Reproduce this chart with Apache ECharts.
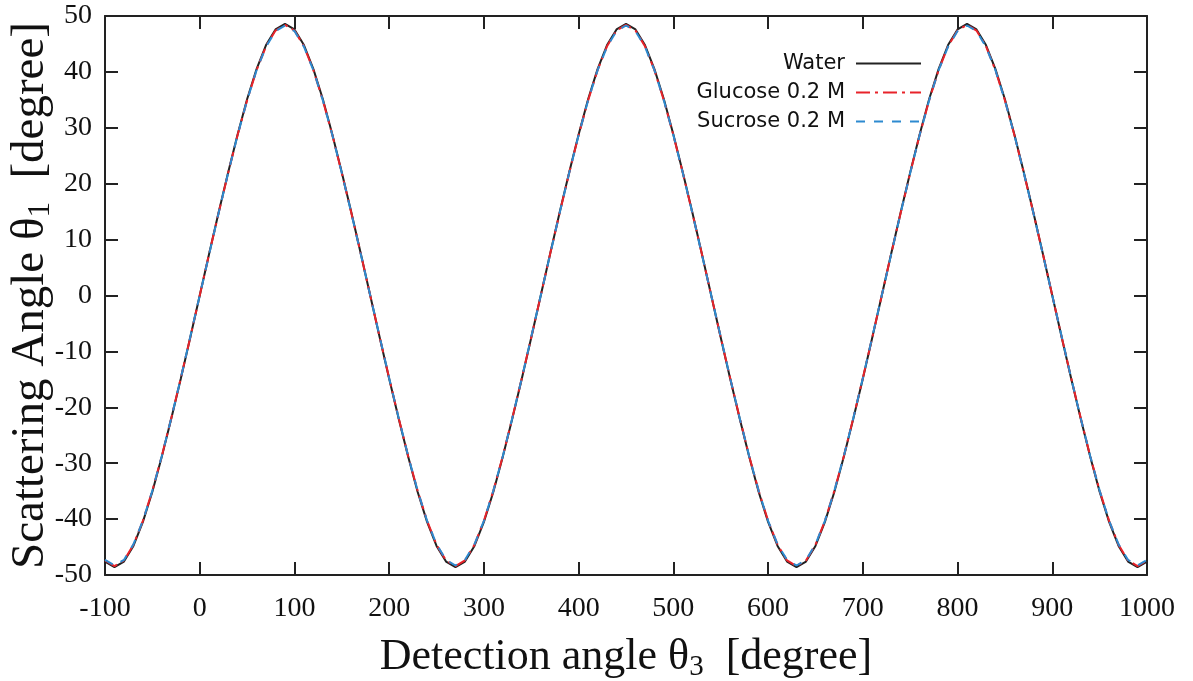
<!DOCTYPE html>
<html>
<head>
<meta charset="utf-8">
<script src="https://cdn.jsdelivr.net/npm/echarts@6/dist/echarts.min.js"></script>
<style>html,body{margin:0;padding:0;background:#fff}#c{width:1193px;height:681px}</style>
</head>
<body>
<div id="c"></div>
<script>
const detectionAngle = [
-100,-90,-80,-70,-60,-50,-40,-30,-20,-10,
0,10,20,30,40,50,60,70,80,90,100,110,120,130,140,150,160,170,
180,190,200,210,220,230,240,250,260,270,280,290,300,310,320,330,340,350,
360,370,380,390,400,410,420,430,440,450,460,470,480,490,500,510,520,530,
540,550,560,570,580,590,600,610,620,630,640,650,660,670,680,690,700,710,
720,730,740,750,760,770,780,790,800,810,820,830,840,850,860,870,880,890,
900,910,920,930,940,950,960,970,980,990,1000];

const water = [
-47.6,-48.6,-47.6,-44.8,-40.5,-35.1,-28.8,-22.0,-14.9,-7.5,
0,7.5,14.9,22.0,28.8,35.1,40.5,44.8,47.6,48.6,47.6,44.8,40.5,35.1,28.8,22.0,14.9,7.5,
0,-7.5,-14.9,-22.0,-28.8,-35.1,-40.5,-44.8,-47.6,-48.6,-47.6,-44.8,-40.5,-35.1,-28.8,-22.0,-14.9,-7.5,
0,7.5,14.9,22.0,28.8,35.1,40.5,44.8,47.6,48.6,47.6,44.8,40.5,35.1,28.8,22.0,14.9,7.5,
0,-7.5,-14.9,-22.0,-28.8,-35.1,-40.5,-44.8,-47.6,-48.6,-47.6,-44.8,-40.5,-35.1,-28.8,-22.0,-14.9,-7.5,
0,7.5,14.9,22.0,28.8,35.1,40.5,44.8,47.6,48.6,47.6,44.8,40.5,35.1,28.8,22.0,14.9,7.5,
0,-7.5,-14.9,-22.0,-28.8,-35.1,-40.5,-44.8,-47.6,-48.6,-47.6];

const glucose = [
-47.4,-48.4,-47.4,-44.6,-40.3,-34.9,-28.7,-21.9,-14.8,-7.5,
0,7.5,14.8,21.9,28.7,34.9,40.3,44.6,47.4,48.4,47.4,44.6,40.3,34.9,28.7,21.9,14.8,7.5,
0,-7.5,-14.8,-21.9,-28.7,-34.9,-40.3,-44.6,-47.4,-48.4,-47.4,-44.6,-40.3,-34.9,-28.7,-21.9,-14.8,-7.5,
0,7.5,14.8,21.9,28.7,34.9,40.3,44.6,47.4,48.4,47.4,44.6,40.3,34.9,28.7,21.9,14.8,7.5,
0,-7.5,-14.8,-21.9,-28.7,-34.9,-40.3,-44.6,-47.4,-48.4,-47.4,-44.6,-40.3,-34.9,-28.7,-21.9,-14.8,-7.5,
0,7.5,14.8,21.9,28.7,34.9,40.3,44.6,47.4,48.4,47.4,44.6,40.3,34.9,28.7,21.9,14.8,7.5,
0,-7.5,-14.8,-21.9,-28.7,-34.9,-40.3,-44.6,-47.4,-48.4,-47.4];

const sucrose = [
-47.3,-48.3,-47.3,-44.5,-40.3,-34.9,-28.7,-21.9,-14.8,-7.4,
0,7.4,14.8,21.9,28.7,34.9,40.3,44.5,47.3,48.3,47.3,44.5,40.3,34.9,28.7,21.9,14.8,7.4,
0,-7.4,-14.8,-21.9,-28.7,-34.9,-40.3,-44.5,-47.3,-48.3,-47.3,-44.5,-40.3,-34.9,-28.7,-21.9,-14.8,-7.4,
0,7.4,14.8,21.9,28.7,34.9,40.3,44.5,47.3,48.3,47.3,44.5,40.3,34.9,28.7,21.9,14.8,7.4,
0,-7.4,-14.8,-21.9,-28.7,-34.9,-40.3,-44.5,-47.3,-48.3,-47.3,-44.5,-40.3,-34.9,-28.7,-21.9,-14.8,-7.4,
0,7.4,14.8,21.9,28.7,34.9,40.3,44.5,47.3,48.3,47.3,44.5,40.3,34.9,28.7,21.9,14.8,7.4,
0,-7.4,-14.8,-21.9,-28.7,-34.9,-40.3,-44.5,-47.3,-48.3,-47.3];

const seriesNames = ['Water', 'Glucose 0.2 M', 'Sucrose 0.2 M'];

const pairs = arr => detectionAngle.map((x, i) => [x, arr[i]]);

const serif = 'Liberation Serif';
const axisLine = {show: true, onZero: false, lineStyle: {color: '#222', width: 2}};
const tick = {show: true, inside: true, length: 13, lineStyle: {color: '#222', width: 2}};

const chart = echarts.init(document.getElementById('c'), null, {renderer: 'canvas'});
chart.setOption({
  animation: false,
  backgroundColor: '#fff',
  grid: {left: 105, right: 46, top: 16, bottom: 106, containLabel: false, outerBoundsMode: 'none'},
  legend: {
    orient: 'vertical',
    right: 266,
    top: 48,
    align: 'right',
    itemWidth: 65,
    itemHeight: 10,
    itemGap: 8,
    itemStyle: {opacity: 0},
    textStyle: {fontFamily: 'DejaVu Sans', fontSize: 21, color: '#111', padding: [0, 6, 0, 0]},
    data: seriesNames
  },
  xAxis: [{
    type: 'value', min: -100, max: 1000, interval: 100,
    axisLine: axisLine, axisTick: tick, splitLine: {show: false},
    axisLabel: {fontFamily: serif, fontSize: 28, color: '#111', margin: 20, formatter: v => String(v)},
    name: '{t|Detection angle θ}{s|3}{t|  [degree]}',
    nameLocation: 'middle', nameGap: 58, nameMoveOverlap: false,
    nameTextStyle: {
      rich: {
        t: {fontFamily: serif, fontSize: 44, color: '#111'},
        s: {fontFamily: serif, fontSize: 29, color: '#111', padding: [20, 0, 0, 0]}
      }
    }
  }, {
    type: 'value', min: -100, max: 1000, interval: 100, position: 'top',
    axisLine: axisLine, axisTick: tick, axisLabel: {show: false}, splitLine: {show: false}
  }],
  yAxis: [{
    type: 'value', min: -50, max: 50, interval: 10,
    axisLine: axisLine, axisTick: tick, splitLine: {show: false},
    axisLabel: {fontFamily: serif, fontSize: 28, color: '#111', margin: 13},
    name: '{t|Scattering Angle θ}{s|1}{t|  [degree]}',
    nameLocation: 'middle', nameGap: 49, nameRotate: 90, nameMoveOverlap: false,
    nameTextStyle: {
      rich: {
        t: {fontFamily: serif, fontSize: 47, color: '#111'},
        s: {fontFamily: serif, fontSize: 31, color: '#111', padding: [20, 0, 0, 0]}
      }
    }
  }, {
    type: 'value', min: -50, max: 50, interval: 10, position: 'right',
    axisLine: axisLine, axisTick: tick, axisLabel: {show: false}, splitLine: {show: false}
  }],
  series: [
    {name: seriesNames[0], type: 'line', data: pairs(water), showSymbol: false, symbol: 'none',
     lineStyle: {color: '#222', width: 2, type: 'solid'}, itemStyle: {color: '#222'}, z: 2},
    {name: seriesNames[1], type: 'line', data: pairs(glucose), showSymbol: false, symbol: 'none',
     lineStyle: {color: '#e8232a', width: 2, type: [14, 5, 3, 5]}, itemStyle: {color: '#e8232a'}, z: 3},
    {name: seriesNames[2], type: 'line', data: pairs(sucrose), showSymbol: false, symbol: 'none',
     lineStyle: {color: '#2d8ad0', width: 2, type: [9, 9]}, itemStyle: {color: '#2d8ad0'}, z: 4}
  ]
});
</script>
</body>
</html>
